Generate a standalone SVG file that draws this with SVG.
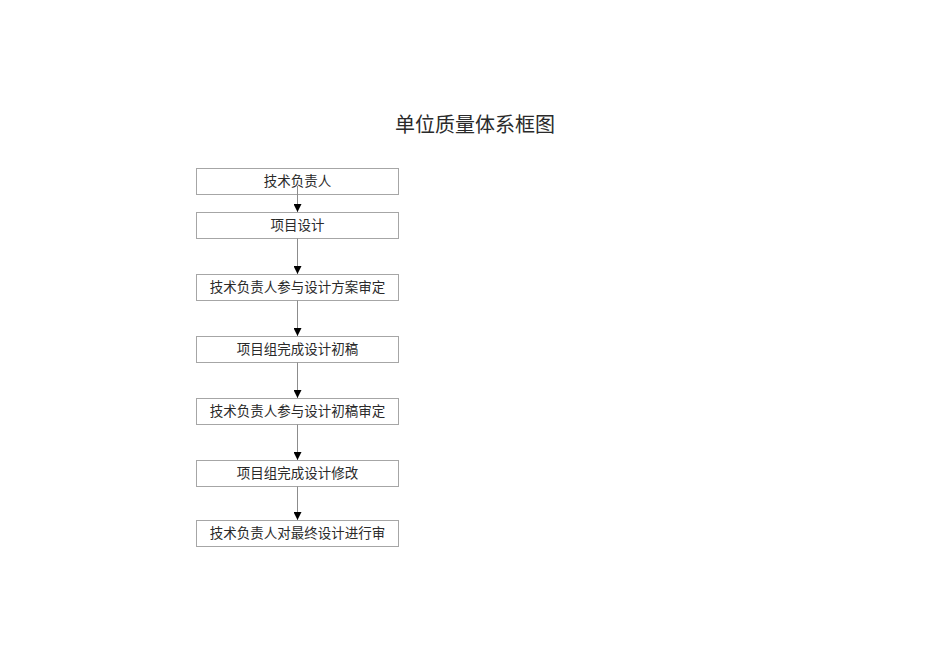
<svg xmlns="http://www.w3.org/2000/svg" width="950" height="672" viewBox="0 0 950 672">
<defs>
<style>
.box{fill:#fff;stroke:#a6a6a6;stroke-width:1}
.t{font-family:"Liberation Serif","Noto Sans CJK SC",serif;font-size:13.5px;fill:#2a2a2a;text-anchor:middle;dominant-baseline:central}
.title{font-family:"Liberation Serif","Noto Sans CJK SC",serif;font-size:20px;fill:#2a2a2a;text-anchor:middle;dominant-baseline:central}
.c{stroke:#8c8c8c;stroke-width:1;fill:none;marker-end:url(#ah)}
</style>
<marker id="ah" viewBox="0 0 8 8" refX="8" refY="4" markerWidth="8" markerHeight="8" markerUnits="userSpaceOnUse" orient="auto">
<path d="M0,0 L8,4 L0,8 z" fill="#000"/>
</marker>
</defs>
<rect width="950" height="672" fill="#fff"/>
<text class="title" x="475" y="125">单位质量体系框图</text>
<g id="n1"><rect class="box" x="196.5" y="168.5" width="202" height="26"/><text class="t" x="297.5" y="181.5">技术负责人</text></g>
<g id="n2"><rect class="box" x="196.5" y="212.5" width="202" height="26"/><text class="t" x="297.5" y="225.5">项目设计</text></g>
<g id="n3"><rect class="box" x="196.5" y="274.5" width="202" height="26"/><text class="t" x="297.5" y="287.5">技术负责人参与设计方案审定</text></g>
<g id="n4"><rect class="box" x="196.5" y="336.5" width="202" height="26"/><text class="t" x="297.5" y="349.5">项目组完成设计初稿</text></g>
<g id="n5"><rect class="box" x="196.5" y="398.5" width="202" height="26"/><text class="t" x="297.5" y="411.5">技术负责人参与设计初稿审定</text></g>
<g id="n6"><rect class="box" x="196.5" y="460.5" width="202" height="26"/><text class="t" x="297.5" y="473.5">项目组完成设计修改</text></g>
<g id="n7"><rect class="box" x="196.5" y="520.5" width="202" height="26"/><text class="t" x="297.5" y="533.5">技术负责人对最终设计进行审</text></g>
<g id="connectors">
<line class="c" x1="297.5" y1="186" x2="297.5" y2="212"/>
<line class="c" x1="297.5" y1="238.5" x2="297.5" y2="274"/>
<line class="c" x1="297.5" y1="300.5" x2="297.5" y2="336"/>
<line class="c" x1="297.5" y1="362.5" x2="297.5" y2="398"/>
<line class="c" x1="297.5" y1="424.5" x2="297.5" y2="460"/>
<line class="c" x1="297.5" y1="486.5" x2="297.5" y2="520"/>
</g>
</svg>
